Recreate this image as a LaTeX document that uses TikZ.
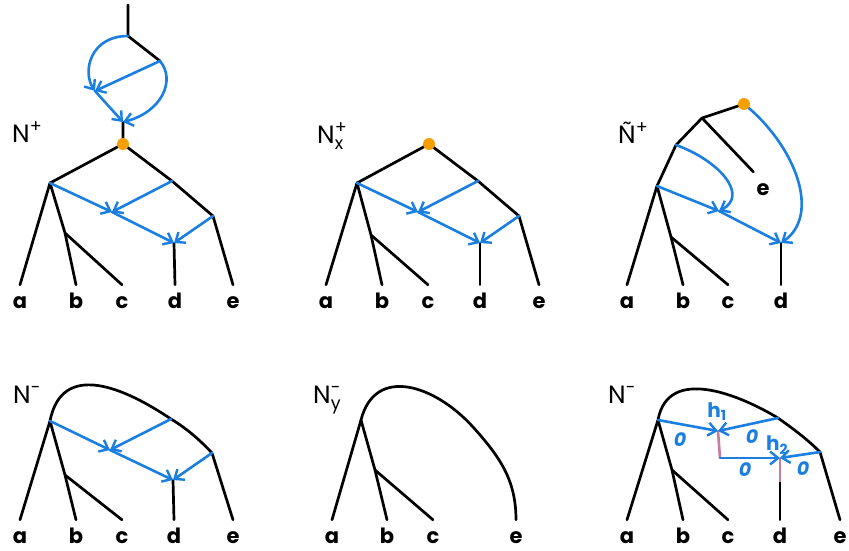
\documentclass[tikz,border=0pt]{standalone}
\usepackage{fontspec}
\usepackage{amsmath}
\setmainfont{Poppins}
\usetikzlibrary{arrows.meta, calc}
\definecolor{treeblue}{RGB}{26,127,224}
\definecolor{rootorange}{RGB}{245,160,0}
\definecolor{hybpink}{RGB}{200,122,160}

\begin{document}
\begin{tikzpicture}[x=1pt, y=-1pt,
  edge/.style={line width=2.7pt, line cap=round, line join=round},
  reti/.style={treeblue, line width=2.6pt, line cap=round,
               -{Straight Barb[length=8pt, width=13pt, line width=2.4pt]}},
  hyb/.style={hybpink, line width=2.6pt},
  leaf/.style={font=\fontsize{21}{21}\selectfont\bfseries, anchor=base,
               text height=20pt, inner sep=3pt},
  title/.style={font=\fontsize{25}{25}\selectfont, anchor=base west, inner sep=0pt},
  root/.style={circle, fill=rootorange, minimum size=12pt, inner sep=0pt},
  wt/.style={treeblue, font=\fontsize{19}{19}\selectfont\bfseries\itshape, inner sep=0pt},
  hlbl/.style={treeblue, font=\fontsize{20}{20}\selectfont\bfseries, inner sep=0pt}
]
  \useasboundingbox (0,0) rectangle (849,550);

  % top left: N^+
  \node[title] (n1) at (12,142) {N$^{\text{+}}$};
  \coordinate (t0) at (128,5);
  \coordinate (t1) at (128,36);
  \coordinate (t2) at (160,61);
  \coordinate (ta) at (95,91);
  \coordinate (tb) at (123,122);
  \coordinate (r1) at (123,144);
  \coordinate (u1) at (50,183);
  \coordinate (u2) at (172,181);
  \coordinate (u3) at (213,216);
  \coordinate (ub) at (65,233);
  \coordinate (uh) at (112,212);
  \coordinate (ud) at (174,243);
  \node[leaf] (a1) at (20,308) {a};
  \node[leaf] (b1) at (76,308) {b};
  \node[leaf] (c1) at (122,308) {c};
  \node[leaf] (d1) at (175,308) {d};
  \node[leaf] (e1) at (233,308) {e};
  \draw[edge] (t0) -- (t1) -- (t2);
  \draw[edge] (tb) -- (r1) -- (u1) -- (a1.north);
  \draw[edge] (u1) -- (ub) -- (b1.north);
  \draw[edge] (ub) -- (c1.north);
  \draw[edge] (r1) -- (u2) -- (u3) -- (e1.north);
  \draw[edge] (ud) -- (d1.north);
  \draw[reti] (t1) .. controls (90,36) and (82,72) .. (ta);
  \draw[reti] (t2) -- (ta);
  \draw[reti] (ta) -- (tb);
  \draw[reti] (t2) .. controls (176,80) and (162,112) .. (tb);
  \draw[reti] (u1) -- (uh);
  \draw[reti] (u2) -- (uh);
  \draw[reti] (uh) -- (ud);
  \draw[reti] (u3) -- (ud);
  \node[root] (dot1) at (r1) {};

  % top middle: N_x^+
  \node[title] (n2) at (317,143) {N$^{\text{+}}_{\text{x}}$};
  \coordinate (r2) at (429,144);
  \coordinate (p1) at (357,183);
  \coordinate (p2) at (478,181);
  \coordinate (p3) at (519,216);
  \coordinate (pb) at (371,235);
  \coordinate (ph) at (418,212);
  \coordinate (pd) at (480,243);
  \node[leaf] (a2) at (326,308) {a};
  \node[leaf] (b2) at (382,308) {b};
  \node[leaf] (c2) at (428,308) {c};
  \node[leaf] (d2) at (480,308) {d};
  \node[leaf] (e2) at (539,308) {e};
  \draw[edge] (r2) -- (p1) -- (a2.north);
  \draw[edge] (p1) -- (pb) -- (b2.north);
  \draw[edge] (pb) -- (c2.north);
  \draw[edge] (r2) -- (p2) -- (p3) -- (e2.north);
  \draw[edge] (pd) -- (d2.north);
  \draw[reti] (p1) -- (ph);
  \draw[reti] (p2) -- (ph);
  \draw[reti] (ph) -- (pd);
  \draw[reti] (p3) -- (pd);
  \node[root] (dot2) at (r2) {};

  % top right: tilde N^+
  \node[title] (n3) at (618,143) {Ñ$^{\text{+}}$};
  \coordinate (q0) at (744,104);
  \coordinate (q1) at (702,118);
  \coordinate (q2) at (676,145);
  \coordinate (q3) at (657,186);
  \coordinate (qb) at (671,237);
  \coordinate (qh) at (719,211);
  \coordinate (qd) at (781,243);
  \node[leaf] (a3) at (627,308) {a};
  \node[leaf] (b3) at (683,308) {b};
  \node[leaf] (c3) at (728,308) {c};
  \node[leaf] (d3) at (781,308) {d};
  \node[leaf] (e3) at (763,195) {e};
  \draw[edge] (q0) -- (q1) -- (q2) -- (q3) -- (a3.north);
  \draw[edge] (q1) -- (e3.north west);
  \draw[edge] (q3) -- (qb) -- (b3.north);
  \draw[edge] (qb) -- (c3.north);
  \draw[edge] (qd) -- (d3.north);
  \draw[reti] (q2) .. controls (718,160) and (750,195) .. (qh);
  \draw[reti] (q3) -- (qh);
  \draw[reti] (qh) -- (qd);
  \draw[reti] (q0) .. controls (795,145) and (822,215) .. (qd);
  \node[root] (dot3) at (q0) {};

  % bottom left: N^-
  \node[title] (n4) at (13,403) {N$^{\text{-}}$};
  \coordinate (v1) at (50,421);
  \coordinate (v2) at (171,419);
  \coordinate (v3) at (212,453);
  \coordinate (vb) at (65,475);
  \coordinate (vh) at (110,450);
  \coordinate (vd) at (173,480);
  \node[leaf] (a4) at (20,543) {a};
  \node[leaf] (b4) at (76,543) {b};
  \node[leaf] (c4) at (122,543) {c};
  \node[leaf] (d4) at (174,543) {d};
  \node[leaf] (e4) at (233,543) {e};
  \draw[edge] (a4.north) -- (v1) .. controls (62,360) and (125,388) .. (v2)
              .. controls (186,428) and (200,440) .. (v3) -- (e4.north);
  \draw[edge] (v1) -- (vb) -- (b4.north);
  \draw[edge] (vb) -- (c4.north);
  \draw[edge] (vd) -- (d4.north);
  \draw[reti] (v1) -- (vh);
  \draw[reti] (v2) -- (vh);
  \draw[reti] (vh) -- (vd);
  \draw[reti] (v3) -- (vd);

  % bottom middle: N_y^-
  \node[title] (n5) at (313,403) {N$^{\text{-}}_{\text{y}}$};
  \coordinate (w1) at (361,420);
  \coordinate (wb) at (375,470);
  \node[leaf] (a5) at (332,543) {a};
  \node[leaf] (b5) at (387,543) {b};
  \node[leaf] (c5) at (433,543) {c};
  \node[leaf] (e5) at (516,543) {e};
  \draw[edge] (a5.north) -- (w1) .. controls (375,365) and (435,385) .. (473,427)
              .. controls (500,457) and (516,480) .. (e5.north);
  \draw[edge] (w1) -- (wb) -- (b5.north);
  \draw[edge] (wb) -- (c5.north);

  % bottom right: N^- with weights
  \node[title] (n6) at (608,403) {N$^{\text{-}}$};
  \coordinate (x1) at (658,420);
  \coordinate (x2) at (778,418);
  \coordinate (x3) at (820,452);
  \coordinate (xb) at (672,470);
  \coordinate (h1t) at (718,431);
  \coordinate (h1b) at (720,458);
  \coordinate (h2t) at (780,458);
  \coordinate (h2b) at (780,482);
  \node[leaf] (a6) at (627,543) {a};
  \node[leaf] (b6) at (683,543) {b};
  \node[leaf] (c6) at (728,543) {c};
  \node[leaf] (d6) at (780,543) {d};
  \node[leaf] (e6) at (840,543) {e};
  \draw[edge] (a6.north) -- (x1) .. controls (668,365) and (740,395) .. (x2)
              .. controls (795,430) and (808,440) .. (x3) -- (e6.north);
  \draw[edge] (x1) -- (xb) -- (b6.north);
  \draw[edge] (xb) -- (c6.north);
  \draw[edge] (h2b) -- (d6.north);
  \draw[hyb] (h1t) -- (h1b);
  \draw[hyb] (h2t) -- (h2b);
  \draw[reti] (x1) -- (h1t);
  \draw[reti] (x2) -- (h1t);
  \draw[reti] (h1b) -- (h2t);
  \draw[reti] (x3) -- (h2t);
  \node[hlbl] (lh1) at (717,412) {h$_{\text{1}}$};
  \node[hlbl] (lh2) at (777,445) {h$_{\text{2}}$};
  \node[wt] (w11) at (680,440) {0};
  \node[wt] (w12) at (752,437) {0};
  \node[wt] (w21) at (745,470) {0};
  \node[wt] (w22) at (803,469) {0};
\end{tikzpicture}
\end{document}
